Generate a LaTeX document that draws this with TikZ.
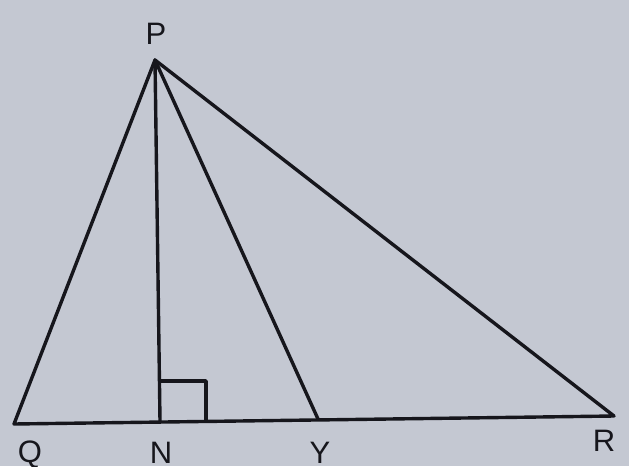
\documentclass[tikz,border=0pt]{standalone}
\usepackage{fontspec}
\setmainfont{Liberation Sans}
\usepackage{xcolor}
\definecolor{paper}{RGB}{196,200,210}
\definecolor{ink}{RGB}{22,22,28}
\begin{document}
\begin{tikzpicture}[x=1pt,y=-1pt,
  seg/.style={draw=ink,line width=3.4pt,line join=round,line cap=round},
  lbl/.style={text=ink,font=\fontsize{31}{34}\selectfont,inner sep=0pt}
]
% Background
\fill[paper] (0,0) rectangle (629,466);
\useasboundingbox (0,0) rectangle (629,466);
% Vertices
\coordinate (P) at (155,60);
\coordinate (Q) at (14,424);
\coordinate (N) at (160,421);
\coordinate (Y) at (318,419);
\coordinate (R) at (614,416);
% Triangle and cevians
\draw[seg] (Q) -- (P) -- (R) -- cycle;
\draw[seg] (P) -- (N);
\draw[seg] (P) -- (Y);
% Right angle mark
\draw[seg,line cap=butt] (160,381) -- (206,381) -- (206,420);
% Labels
\node[lbl] (lP) at (156,34) {P};
\node[lbl] (lQ) at (30,455) {Q};
\node[lbl] (lN) at (161,453) {N};
\node[lbl] (lY) at (320,453) {Y};
\node[lbl] (lR) at (604,441) {R};
\end{tikzpicture}
\end{document}
